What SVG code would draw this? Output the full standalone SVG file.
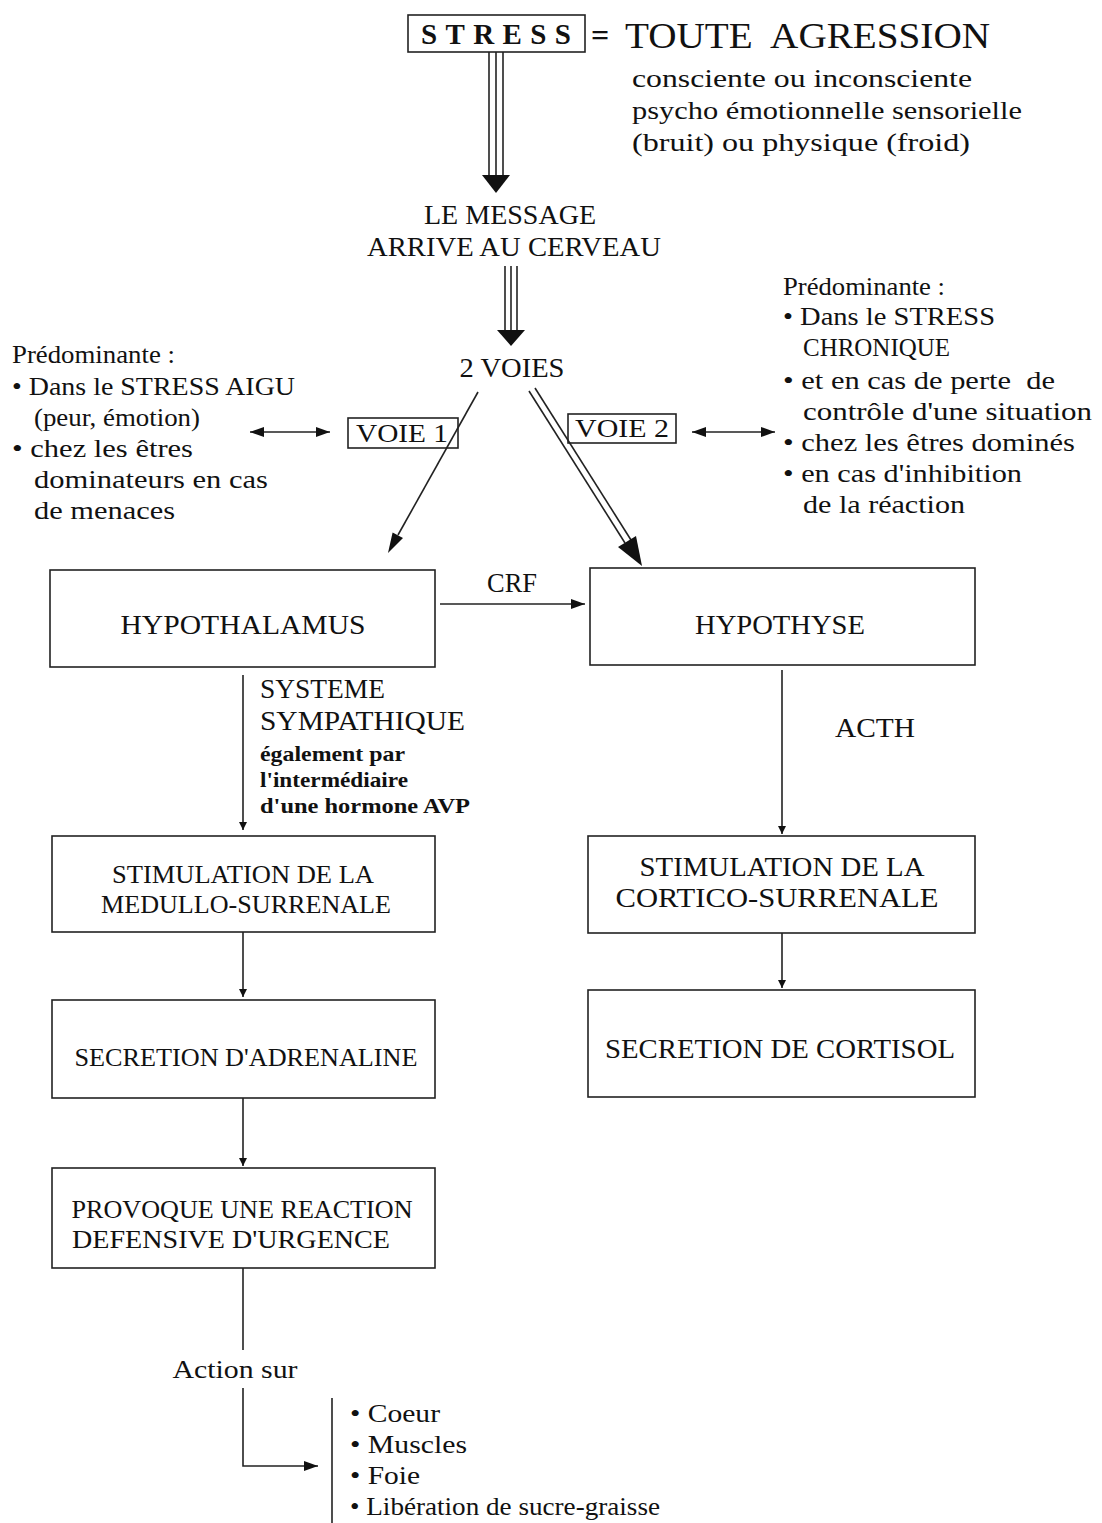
<svg xmlns="http://www.w3.org/2000/svg" width="1102" height="1523" viewBox="0 0 1102 1523">
<style>
text{font-family:"Liberation Serif","Times New Roman",serif;fill:#111;}
.t{font-size:27px;}
.m{font-size:26px;}
.s{font-size:26px;}
.b{font-size:21px;font-weight:bold;}
.box{fill:#fff;stroke:#222;stroke-width:1.6;}
.ln{stroke:#222;stroke-width:1.6;fill:none;}
.ah{fill:#111;stroke:none;}
</style>
<defs>
<marker id="arr" viewBox="0 0 10 10" refX="10" refY="5" markerWidth="8" markerHeight="8" markerUnits="userSpaceOnUse" orient="auto"><path d="M0,0 L10,5 L0,10 z" fill="#111"/></marker>
<marker id="arrS" viewBox="0 0 14 10" refX="14" refY="5" markerWidth="16" markerHeight="10" markerUnits="userSpaceOnUse" orient="auto"><path d="M0,0 L14,5 L0,10 z" fill="#111"/></marker>
<marker id="arrSs" viewBox="0 0 14 10" refX="0" refY="5" markerWidth="16" markerHeight="10" markerUnits="userSpaceOnUse" orient="auto"><path d="M14,0 L0,5 L14,10 z" fill="#111"/></marker>
</defs>

<g id="stress">
<rect class="box" x="408" y="15" width="177" height="37"/>
<text x="496" y="44" font-size="29" font-weight="bold" text-anchor="middle" textLength="150" lengthAdjust="spacing">STRESS</text>
<text x="591" y="46" font-size="32" font-weight="bold">=</text>
<text x="625" y="48" font-size="36" textLength="365" lengthAdjust="spacingAndGlyphs">TOUTE&#160; AGRESSION</text>
<text class="s" x="632" y="87" textLength="340" lengthAdjust="spacingAndGlyphs">consciente ou inconsciente</text>
<text class="s" x="632" y="119" textLength="390" lengthAdjust="spacingAndGlyphs">psycho émotionnelle sensorielle</text>
<text class="s" x="632" y="151" textLength="338" lengthAdjust="spacingAndGlyphs">(bruit) ou physique (froid)</text>
</g>

<g id="message">
<text class="t" x="510" y="224" text-anchor="middle" textLength="172" lengthAdjust="spacingAndGlyphs">LE MESSAGE</text>
<text class="t" x="514" y="256" text-anchor="middle" textLength="294" lengthAdjust="spacingAndGlyphs">ARRIVE AU CERVEAU</text>
</g>

<g id="voies">
<text class="t" x="512" y="377" text-anchor="middle" textLength="105" lengthAdjust="spacingAndGlyphs">2 VOIES</text>
</g>

<g id="left-note">
<text class="s" x="12" y="363" textLength="163" lengthAdjust="spacingAndGlyphs">Prédominante :</text>
<text class="s" x="12" y="395" textLength="283" lengthAdjust="spacingAndGlyphs">• Dans le STRESS AIGU</text>
<text class="s" x="34" y="426" textLength="166" lengthAdjust="spacingAndGlyphs">(peur, émotion)</text>
<text class="s" x="12" y="457" textLength="181" lengthAdjust="spacingAndGlyphs">• chez les êtres</text>
<text class="s" x="34" y="488" textLength="234" lengthAdjust="spacingAndGlyphs">dominateurs en cas</text>
<text class="s" x="34" y="519" textLength="141" lengthAdjust="spacingAndGlyphs">de menaces</text>
</g>

<g id="voie1">
<rect class="box" x="348" y="418" width="110" height="30"/>
<text class="s" x="402" y="442" text-anchor="middle" textLength="92" lengthAdjust="spacingAndGlyphs">VOIE 1</text>
</g>

<g id="voie2">
<rect class="box" x="568" y="414" width="108" height="29"/>
<text class="s" x="622" y="437" text-anchor="middle" textLength="94" lengthAdjust="spacingAndGlyphs">VOIE 2</text>
</g>

<g id="right-note">
<text class="s" x="783" y="295" textLength="162" lengthAdjust="spacingAndGlyphs">Prédominante :</text>
<text class="s" x="783" y="325" textLength="212" lengthAdjust="spacingAndGlyphs">• Dans le STRESS</text>
<text class="s" x="803" y="356" textLength="147" lengthAdjust="spacingAndGlyphs">CHRONIQUE</text>
<text class="s" x="783" y="389" textLength="272" lengthAdjust="spacingAndGlyphs">• et en cas de perte&#160; de</text>
<text class="s" x="803" y="420" textLength="289" lengthAdjust="spacingAndGlyphs">contrôle d'une situation</text>
<text class="s" x="783" y="451" textLength="292" lengthAdjust="spacingAndGlyphs">• chez les êtres dominés</text>
<text class="s" x="783" y="482" textLength="239" lengthAdjust="spacingAndGlyphs">• en cas d'inhibition</text>
<text class="s" x="803" y="513" textLength="162" lengthAdjust="spacingAndGlyphs">de la réaction</text>
</g>

<g id="hypothalamus">
<rect class="box" x="50" y="570" width="385" height="97"/>
<text class="t" x="243" y="634" text-anchor="middle" textLength="245" lengthAdjust="spacingAndGlyphs">HYPOTHALAMUS</text>
</g>

<g id="hypothyse">
<rect class="box" x="590" y="568" width="385" height="97"/>
<text class="t" x="780" y="634" text-anchor="middle" textLength="170" lengthAdjust="spacingAndGlyphs">HYPOTHYSE</text>
</g>

<g id="medullo">
<rect class="box" x="52" y="836" width="383" height="96"/>
<text class="m" x="243" y="883" text-anchor="middle" textLength="262" lengthAdjust="spacingAndGlyphs">STIMULATION DE LA</text>
<text class="m" x="246" y="913" text-anchor="middle" textLength="290" lengthAdjust="spacingAndGlyphs">MEDULLO-SURRENALE</text>
</g>

<g id="adrenaline">
<rect class="box" x="52" y="1000" width="383" height="98"/>
<text class="m" x="246" y="1066" text-anchor="middle" textLength="343" lengthAdjust="spacingAndGlyphs">SECRETION D'ADRENALINE</text>
</g>

<g id="provoque">
<rect class="box" x="52" y="1168" width="383" height="100"/>
<text class="m" x="242" y="1218" text-anchor="middle" textLength="341" lengthAdjust="spacingAndGlyphs">PROVOQUE UNE REACTION</text>
<text class="m" x="231" y="1248" text-anchor="middle" textLength="318" lengthAdjust="spacingAndGlyphs">DEFENSIVE D'URGENCE</text>
</g>

<g id="cortico">
<rect class="box" x="588" y="836" width="387" height="97"/>
<text class="t" x="782" y="876" text-anchor="middle" textLength="285" lengthAdjust="spacingAndGlyphs">STIMULATION DE LA</text>
<text class="t" x="777" y="907" text-anchor="middle" textLength="323" lengthAdjust="spacingAndGlyphs">CORTICO-SURRENALE</text>
</g>

<g id="cortisol">
<rect class="box" x="588" y="990" width="387" height="107"/>
<text class="t" x="780" y="1058" text-anchor="middle" textLength="350" lengthAdjust="spacingAndGlyphs">SECRETION DE CORTISOL</text>
</g>

<g id="sympathique-label">
<text class="t" x="260" y="698" textLength="125" lengthAdjust="spacingAndGlyphs">SYSTEME</text>
<text class="t" x="260" y="730" textLength="205" lengthAdjust="spacingAndGlyphs">SYMPATHIQUE</text>
<text class="b" x="260" y="761" textLength="145" lengthAdjust="spacingAndGlyphs">également par</text>
<text class="b" x="260" y="787" textLength="148" lengthAdjust="spacingAndGlyphs">l'intermédiaire</text>
<text class="b" x="260" y="813" textLength="210" lengthAdjust="spacingAndGlyphs">d'une hormone AVP</text>
</g>

<g id="labels">
<text class="t" x="512" y="592" text-anchor="middle" textLength="50" lengthAdjust="spacingAndGlyphs">CRF</text>
<text class="t" x="875" y="737" text-anchor="middle" textLength="80" lengthAdjust="spacingAndGlyphs">ACTH</text>
<text class="s" x="235" y="1378" text-anchor="middle" textLength="125" lengthAdjust="spacingAndGlyphs">Action sur</text>
</g>

<g id="targets">
<line class="ln" x1="332" y1="1398" x2="332" y2="1523"/>
<text class="s" x="350" y="1422" textLength="90" lengthAdjust="spacingAndGlyphs">• Coeur</text>
<text class="s" x="350" y="1453" textLength="117" lengthAdjust="spacingAndGlyphs">• Muscles</text>
<text class="s" x="350" y="1484" textLength="70" lengthAdjust="spacingAndGlyphs">• Foie</text>
<text class="s" x="350" y="1515" textLength="310" lengthAdjust="spacingAndGlyphs">• Libération de sucre-graisse</text>
</g>

<g id="connectors">
<line class="ln" x1="489" y1="52" x2="489" y2="176"/>
<line class="ln" x1="496" y1="52" x2="496" y2="176"/>
<line class="ln" x1="503" y1="52" x2="503" y2="176"/>
<polygon class="ah" points="482,175 510,175 496,193"/>
<line class="ln" x1="505" y1="266" x2="505" y2="332"/>
<line class="ln" x1="511" y1="266" x2="511" y2="332"/>
<line class="ln" x1="517" y1="266" x2="517" y2="332"/>
<polygon class="ah" points="497,330 525,330 511,346"/>
<line class="ln" x1="478" y1="392" x2="398" y2="535"/>
<polygon class="ah" points="388,553 403,538 392.6,532.6"/>
<line class="ln" x1="529" y1="391" x2="625" y2="543"/>
<line class="ln" x1="535" y1="388" x2="631" y2="540"/>
<polygon class="ah" points="642,566 636,536 618,547"/>
<line class="ln" x1="250" y1="432" x2="330" y2="432" stroke-width="2.5" marker-start="url(#arrSs)" marker-end="url(#arrS)"/>
<line class="ln" x1="692" y1="432" x2="775" y2="432" stroke-width="2.5" marker-start="url(#arrSs)" marker-end="url(#arrS)"/>
<line class="ln" x1="440" y1="604" x2="585" y2="604" marker-end="url(#arrS)"/>
<line class="ln" x1="243" y1="675" x2="243" y2="830" marker-end="url(#arr)"/>
<line class="ln" x1="243" y1="932" x2="243" y2="997" marker-end="url(#arr)"/>
<line class="ln" x1="243" y1="1098" x2="243" y2="1166" marker-end="url(#arr)"/>
<line class="ln" x1="243" y1="1268" x2="243" y2="1350"/>
<polyline class="ln" points="243,1388 243,1466 318,1466" marker-end="url(#arrS)"/>
<line class="ln" x1="782" y1="670" x2="782" y2="834" marker-end="url(#arr)"/>
<line class="ln" x1="782" y1="933" x2="782" y2="988" marker-end="url(#arr)"/>
</g>
</svg>
